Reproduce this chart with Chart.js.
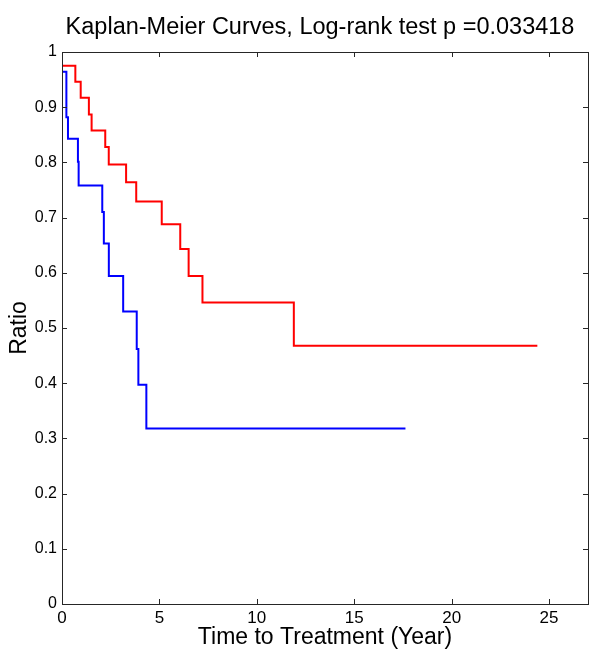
<!DOCTYPE html>
<html>
<head>
<meta charset="utf-8">
<script src="https://cdn.jsdelivr.net/npm/chart.js@4.4.1/dist/chart.umd.min.js"></script>
<style>
  body { margin: 0; background: #fff; }
  #km_plot_container { width: 600px; height: 661px; }
</style>
</head>
<body>
<div id="km_plot_container"><canvas id="km_plot" width="600" height="661"></canvas></div>
<script>
// KAPLAN-MEIER CURVES
const redTime = [0, 0, 0.685, 0.96, 1.38, 1.52, 2.22, 2.40, 3.29, 3.81, 5.12, 6.07, 6.50, 7.21, 11.90, 24.40];
const redSurv = [1, 0.975, 0.946, 0.917, 0.887, 0.858, 0.828, 0.796, 0.764, 0.729, 0.688, 0.643, 0.594, 0.546, 0.468, 0.468];

const blueTime = [0, 0, 0.225, 0.307, 0.818, 0.854, 2.067, 2.148, 2.404, 3.14, 3.836, 3.92, 4.33, 17.63];
const blueSurv = [1, 0.964, 0.882, 0.843, 0.801, 0.758, 0.710, 0.653, 0.594, 0.530, 0.462, 0.397, 0.318, 0.318];

const titleText = 'Kaplan-Meier Curves, Log-rank test p =0.033418';
const xLabel = 'Time to Treatment (Year)';
const yLabel = 'Ratio';
const xMin = 0, xMax = 27, xStep = 5;
const yMin = 0, yMax = 1, yStep = 0.1;

function toPoints(t, s) {
  let pts = [];
  for (let i = 0; i < t.length; i++) {
    pts.push({x: t[i], y: s[i]});
  }
  return pts;
}

// matlab style box with inward ticks, title over the axes
const matlabAxes = {
  id: 'matlabAxes',
  afterDraw(chart) {
    const {ctx, chartArea: a, scales: {x, y}} = chart;
    ctx.save();
    ctx.strokeStyle = '#262626';
    ctx.lineWidth = 1;
    ctx.beginPath();
    x.ticks.forEach(t => {
      const px = Math.round(x.getPixelForValue(t.value)) + 0.5;
      ctx.moveTo(px, a.bottom); ctx.lineTo(px, a.bottom - 5);
      ctx.moveTo(px, a.top); ctx.lineTo(px, a.top + 5);
    });
    y.ticks.forEach(t => {
      const py = Math.round(y.getPixelForValue(t.value)) + 0.5;
      ctx.moveTo(a.left, py); ctx.lineTo(a.left + 5, py);
      ctx.moveTo(a.right, py); ctx.lineTo(a.right - 5, py);
    });
    ctx.stroke();
    ctx.strokeRect(Math.round(a.left) + 0.5, Math.round(a.top) + 0.5,
                   Math.round(a.right - a.left), Math.round(a.bottom - a.top));

    ctx.fillStyle = '#000';
    ctx.font = '23.5px "Liberation Sans", Arial, sans-serif';
    ctx.textAlign = 'center';
    ctx.textBaseline = 'middle';
    ctx.fillText(titleText, (a.left + a.right) / 2 - 5, 28);
    ctx.restore();
  }
};

Chart.defaults.font.family = '"Liberation Sans", Arial, sans-serif';
Chart.defaults.color = '#000';

let ctx = document.getElementById('km_plot');
window.km_plot = new Chart(ctx, {
  type: 'line',
  data: {
    datasets: [{
      data: toPoints(redTime, redSurv),
      borderColor: '#ff0000',
      borderWidth: 2,
      stepped: true,
      fill: false,
      pointRadius: 0,
    }, {
      data: toPoints(blueTime, blueSurv),
      borderColor: '#0000ff',
      borderWidth: 2,
      stepped: true,
      fill: false,
      pointRadius: 0,
    }]
  },
  options: {
    responsive: false,
    animation: false,
    layout: {
      padding: {top: 52, right: 12, bottom: 0, left: 0}
    },
    plugins: {
      legend: {display: false},
      title: {display: false},
      tooltip: {enabled: false},
    },
    scales: {
      x: {
        type: 'linear',
        min: xMin,
        max: xMax,
        grid: {display: false, drawTicks: false},
        border: {display: false},
        ticks: {
          stepSize: xStep,
          includeBounds: false,
          padding: 4,
          maxRotation: 0,
          font: {size: 17},
        },
        title: {
          display: true,
          text: xLabel,
          font: {size: 23},
          padding: {top: 0, bottom: 10},
        },
        afterFit: scale => { scale.height = 57; }
      },
      y: {
        type: 'linear',
        min: yMin,
        max: yMax,
        grid: {display: false, drawTicks: false},
        border: {display: false},
        ticks: {
          stepSize: yStep,
          padding: 5,
          font: {size: 16},
          callback: v => Math.round(v * 10) / 10
        },
        title: {
          display: true,
          text: yLabel,
          font: {size: 23},
          padding: {top: 6, bottom: 0},
        },
        afterFit: scale => { scale.width = 62; }
      }
    }
  },
  plugins: [matlabAxes]
});
</script>
</body>
</html>
